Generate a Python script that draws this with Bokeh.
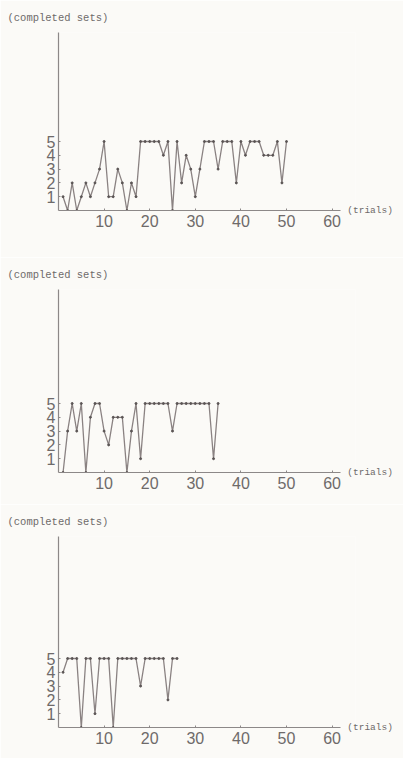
from bokeh.plotting import figure
from bokeh.layouts import column
from bokeh.models import Range1d, FixedTicker, Label, Title
from bokeh.embed import file_html
from bokeh.resources import INLINE

# completed sets per trial, three sessions
sets_1 = [1, 0, 2, 0, 1, 2, 1, 2, 3, 5, 1, 1, 3, 2, 0, 2, 1, 5, 5, 5,
          5, 5, 4, 5, 0, 5, 2, 4, 3, 1, 3, 5, 5, 5, 3, 5, 5, 5, 2, 5,
          4, 5, 5, 5, 4, 4, 4, 5, 2, 5]
sets_2 = [0, 3, 5, 3, 5, 0, 4, 5, 5, 3, 2, 4, 4, 4, 0, 3, 5, 1, 5, 5,
          5, 5, 5, 5, 3, 5, 5, 5, 5, 5, 5, 5, 5, 1, 5]
sets_3 = [4, 5, 5, 5, 0, 5, 5, 1, 5, 5, 5, 0, 5, 5, 5, 5, 5, 3, 5, 5,
          5, 5, 5, 2, 5, 5]

x_ticks = [10, 20, 30, 40, 50, 60]
y_ticks = [1, 2, 3, 4, 5]
y_title = "(completed sets)"
x_title = "(trials)"

X_AXIS_END = 61.8
PX_PER_TRIAL = 4.56
PX_PER_SET = 13.8
FIG_W = 403
LEFT = 58
RIGHT = 48
BG = "#fbfaf7"
AXIS_COLOR = "#8c8888"
LABEL_COLOR = "#6e6a6a"
LINE_COLOR = "#8a8282"
DOT_COLOR = "#5a5454"


def make_panel(values, height, top, frame_h):
    bottom = height - top - frame_h
    frame_w = FIG_W - LEFT - RIGHT
    trials = list(range(1, len(values) + 1))
    p = figure(width=FIG_W, height=height, output_backend="svg",
               toolbar_location=None,
               x_range=Range1d(0, frame_w / PX_PER_TRIAL),
               y_range=Range1d(0, frame_h / PX_PER_SET),
               min_border_left=LEFT, min_border_right=RIGHT,
               min_border_top=top, min_border_bottom=bottom)
    p.background_fill_color = BG
    p.border_fill_color = BG
    p.outline_line_color = None
    p.xgrid.visible = False
    p.ygrid.visible = False

    for ax in (p.xaxis, p.yaxis):
        ax.axis_line_color = AXIS_COLOR
        ax.axis_line_width = 1.2
        ax.major_tick_line_color = AXIS_COLOR
        ax.major_tick_in = 2
        ax.major_tick_out = 0
        ax.minor_tick_line_color = None
        ax.major_label_text_font = "Liberation Sans"
        ax.major_label_text_font_size = "16px"
        ax.major_label_text_color = LABEL_COLOR
    p.xaxis.ticker = FixedTicker(ticks=x_ticks)
    p.yaxis.ticker = FixedTicker(ticks=y_ticks)
    p.xaxis.bounds = (0, X_AXIS_END)
    p.xaxis.major_label_standoff = 4
    p.yaxis.major_label_standoff = 3

    p.line(trials, values, line_color=LINE_COLOR, line_width=1.3)
    p.scatter(trials, values, size=2.0, color=DOT_COLOR)

    p.add_layout(Title(text=y_title, align="left", offset=-51,
                       text_font="Liberation Mono", text_font_size="10.5px",
                       text_font_style="normal", text_color=LABEL_COLOR,
                       standoff=18), "above")
    p.add_layout(Label(x=X_AXIS_END, y=0, x_offset=7, text=x_title,
                       text_font="Liberation Mono", text_font_size="9.5px",
                       text_color=LABEL_COLOR, text_baseline="middle"),
                 "right")
    return p


p1 = make_panel(sets_1, 257, 32, 178)
p2 = make_panel(sets_2, 247, 32, 183)
p3 = make_panel(sets_3, 254, 32, 191)

layout = column(p1, p2, p3, spacing=0)
open("out.html", "w").write(file_html(layout, INLINE))
